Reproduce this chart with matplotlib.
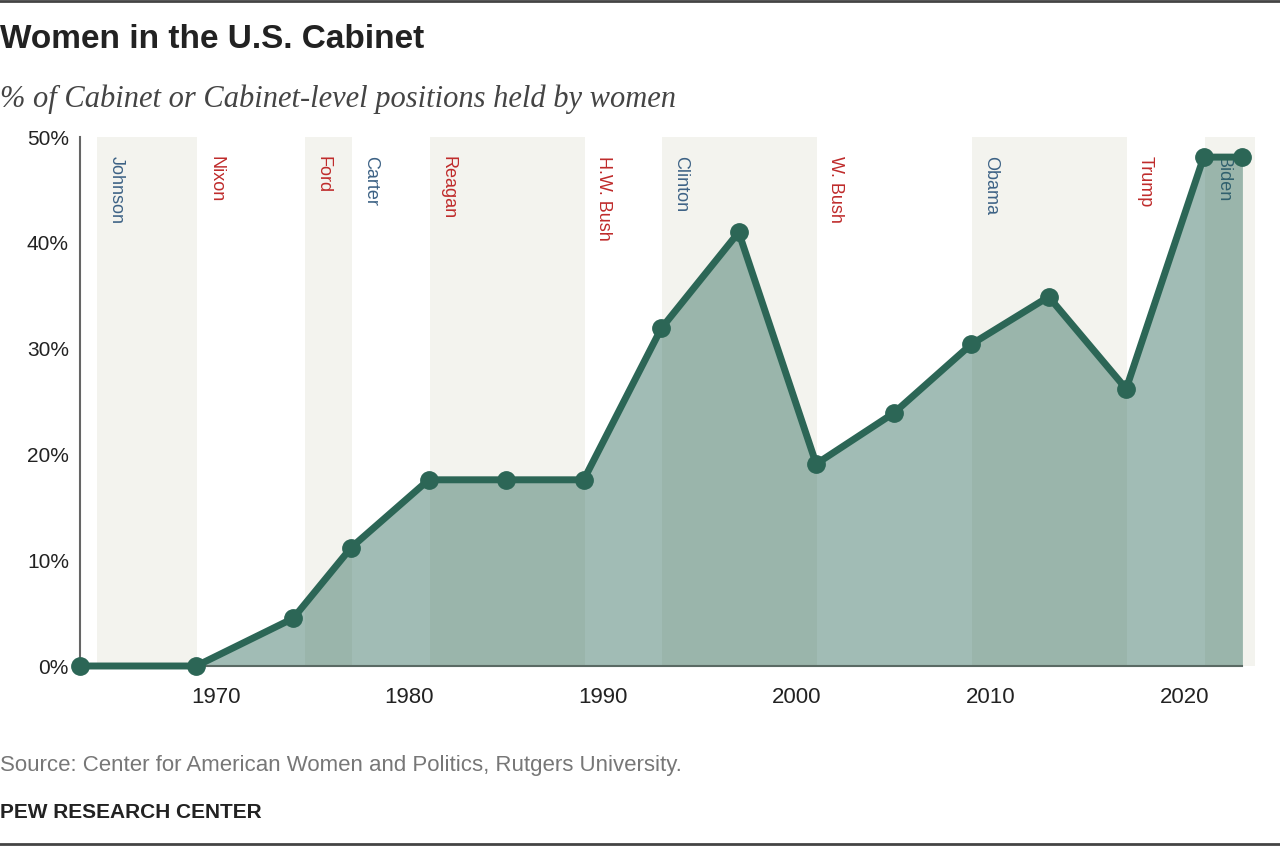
import matplotlib
matplotlib.use('Agg')
import matplotlib.pyplot as plt
from matplotlib.ticker import FuncFormatter

# Data: share of Cabinet positions held by women
years = [1963, 1969, 1974, 1977, 1981, 1985, 1989, 1993, 1997, 2001, 2005,
         2009, 2013, 2017, 2021, 2023]
pct = [0, 0, 4.5, 11.2, 17.6, 17.6, 17.6, 31.9, 41.0, 19.1, 23.9,
       30.4, 34.9, 26.2, 48.1, 48.1]

# Presidencies: name, start of term, party
presidents = ['Johnson', 'Nixon', 'Ford', 'Carter', 'Reagan', 'H.W. Bush',
              'Clinton', 'W. Bush', 'Obama', 'Trump', 'Biden']
term_start = [1963.9, 1969.05, 1974.6, 1977.05, 1981.05, 1989.05,
              1993.05, 2001.05, 2009.05, 2017.05, 2021.05]
party = ['D', 'R', 'R', 'D', 'R', 'R', 'D', 'R', 'D', 'R', 'D']
x_end = 2023.65

yticks = [0, 10, 20, 30, 40, 50]
xticks = [1970, 1980, 1990, 2000, 2010, 2020]

line_col = '#2C6656'
fill_col = '#1F604F'
shade_col = '#F3F3EE'
party_col = {'D': '#3D6285', 'R': '#BF2B2B'}

fig = plt.figure(figsize=(12.8, 8.46), dpi=100)
ax = fig.add_axes([80 / 1280, 1 - 666 / 846, (1255 - 80) / 1280, (666 - 137) / 846])

# every other presidency gets a light band
ends = term_start[1:] + [x_end]
shaded = ['Johnson', 'Ford', 'Reagan', 'Clinton', 'Obama', 'Biden']
for name, s, e, p in zip(presidents, term_start, ends, party):
    if name in shaded:
        ax.axvspan(s, e, color=shade_col, lw=0, zorder=0)
    ax.text(s + 0.95, 48.2, name, rotation=-90, ha='center', va='top',
            fontsize=13, color=party_col[p], family='Liberation Sans', zorder=1)

ax.fill_between(years, pct, 0, color=fill_col, alpha=0.42, lw=0, zorder=2)
ax.plot(years, pct, color=line_col, lw=5, marker='o', markersize=12.5,
        solid_capstyle='round', zorder=4, clip_on=False)

ax.set_xlim(1963, x_end)
ax.set_ylim(0, 50)
ax.set_yticks(yticks)
ax.set_xticks(xticks)
ax.yaxis.set_major_formatter(FuncFormatter(lambda v, _: f'{v:.0f}%'))
ax.tick_params(length=0, colors='#222222')
ax.tick_params(axis='y', labelsize=15, pad=8)
ax.tick_params(axis='x', labelsize=16, pad=15)
for lab in ax.get_xticklabels() + ax.get_yticklabels():
    lab.set_family('Liberation Sans')

for s in ['top', 'right']:
    ax.spines[s].set_visible(False)
ax.spines['left'].set_color('#666666')
ax.spines['left'].set_linewidth(1.5)
ax.spines['bottom'].set_color('#5a6a64')
ax.spines['bottom'].set_linewidth(1.5)
ax.spines['bottom'].set_bounds(1963, 2023)
ax.spines['bottom'].set_zorder(3)

# header and footer
fig.text(0, 1 - 40 / 846, 'Women in the U.S. Cabinet', fontsize=24, weight='bold',
         family='Liberation Sans', color='#222222', va='center', ha='left')
fig.text(0, 1 - 99 / 846, '% of Cabinet or Cabinet-level positions held by women',
         fontsize=22, style='italic', family='Liberation Serif', color='#444444',
         va='center', ha='left')
fig.text(0, 1 - 765 / 846, 'Source: Center for American Women and Politics, Rutgers University.',
         fontsize=16, family='Liberation Sans', color='#777777', va='center', ha='left')
fig.text(0, 1 - 812 / 846, 'PEW RESEARCH CENTER', fontsize=15, weight='bold',
         family='Liberation Sans', color='#222222', va='center', ha='left')
fig.add_artist(plt.Line2D([0, 1], [1 - 1.5 / 846, 1 - 1.5 / 846], color='#444444', lw=2))
fig.add_artist(plt.Line2D([0, 1], [1 - 844 / 846, 1 - 844 / 846], color='#444444', lw=2))

fig.savefig('out.png', dpi=100)
